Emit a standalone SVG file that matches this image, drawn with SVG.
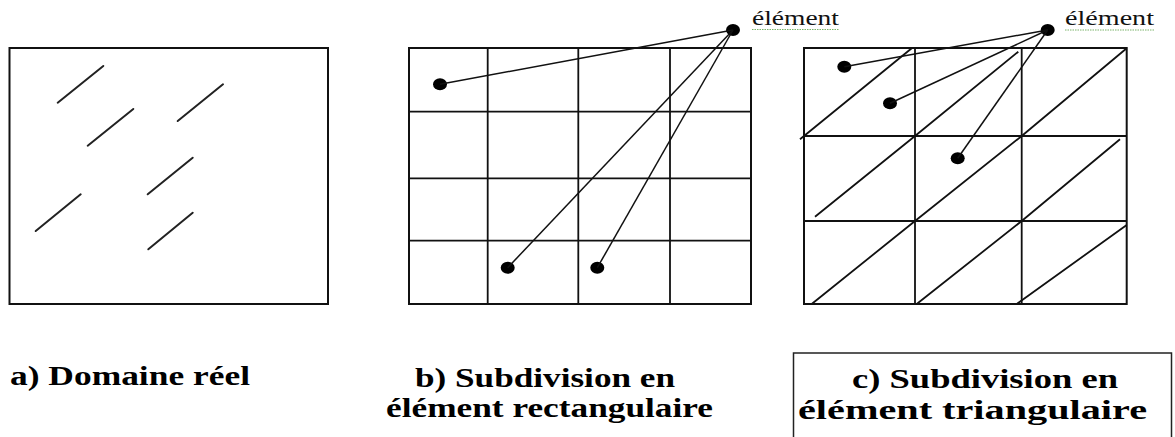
<svg xmlns="http://www.w3.org/2000/svg" width="1175" height="437" viewBox="0 0 1175 437">
<style>
.frame{fill:none;stroke:#111;stroke-width:2}
.grid{stroke:#111;stroke-width:1.8;fill:none}
.crack{stroke:#222;stroke-width:2;stroke-linecap:round}
.conn{stroke:#111;stroke-width:1.5;fill:none}
.dot{fill:#000}
.lbl{font-family:"Times New Roman","Liberation Serif",Times,serif;font-size:20px;fill:#111}
.cap{font-family:"Times New Roman","Liberation Serif",Times,serif;font-size:27px;font-weight:bold;fill:#000}
.spell{stroke:#7bb36b;stroke-width:1;stroke-dasharray:1.5 1;fill:none}
</style>
<rect width="1175" height="437" fill="#fff"/>

<g id="panel-a">
<rect class="frame" x="9.5" y="48" width="318.5" height="256"/>
<line class="crack" x1="57.7" y1="102.7" x2="103.3" y2="66"/>
<line class="crack" x1="87.7" y1="145.7" x2="133.3" y2="109"/>
<line class="crack" x1="177.7" y1="121" x2="223" y2="84.3"/>
<line class="crack" x1="147.7" y1="194.3" x2="192.7" y2="157.7"/>
<line class="crack" x1="35.7" y1="231" x2="80.7" y2="194.3"/>
<line class="crack" x1="148.3" y1="249.3" x2="192.7" y2="212.7"/>
</g>

<g id="panel-b">
<rect class="frame" x="409" y="48" width="342" height="256"/>
<path class="grid" d="M487.7 48V304M578.3 48V304M670 48V304M409 111.7H751M409 178.3H751M409 240.7H751"/>
<ellipse class="dot" cx="440" cy="84.3" rx="7" ry="6"/>
<ellipse class="dot" cx="507.7" cy="267.7" rx="7" ry="6"/>
<ellipse class="dot" cx="597.3" cy="267.7" rx="7" ry="6"/>
</g>

<g id="panel-c">
<rect class="frame" x="804" y="48" width="322.7" height="256"/>
<path class="grid" d="M915 48V304M1021.7 48V304M804 136H1126.7M804 221H1126.7"/>
<path class="grid" d="M800 139.3L911.7 48.3M915 136L1018.3 51.7M1021.7 136L1126.7 48.3M815 216.7L915 136M915 221L1021.7 136M1021.7 221L1120 139.3M811.7 304L915 221M916.7 304L1021.7 221M1016.7 304L1126.7 225"/>
<ellipse class="dot" cx="844.3" cy="66.7" rx="7" ry="6"/>
<ellipse class="dot" cx="890" cy="103.3" rx="7" ry="6"/>
<ellipse class="dot" cx="957.7" cy="158.3" rx="7" ry="6"/>
</g>

<g id="label-element-b">
<ellipse class="dot" cx="733" cy="30" rx="7" ry="6"/>
<text class="lbl" x="752" y="25" textLength="87" lengthAdjust="spacingAndGlyphs">élément</text>
<path class="spell" d="M752 29.5H839"/>
</g>

<g id="label-element-c">
<ellipse class="dot" cx="1047.7" cy="30" rx="7" ry="6"/>
<text class="lbl" x="1065" y="25.3" textLength="89" lengthAdjust="spacingAndGlyphs">élément</text>
<path class="spell" d="M1065 30H1154"/>
</g>

<g id="connectors">
<line class="conn" x1="733" y1="30" x2="440" y2="84.3"/>
<line class="conn" x1="733" y1="30" x2="507.7" y2="267.7"/>
<line class="conn" x1="733" y1="30" x2="597.3" y2="267.7"/>
<line class="conn" x1="1047.7" y1="30" x2="844.3" y2="66.7"/>
<line class="conn" x1="1047.7" y1="30" x2="890" y2="103.3"/>
<line class="conn" x1="1047.7" y1="30" x2="957.7" y2="158.3"/>
</g>

<g id="caption-a">
<text class="cap" x="10" y="385" textLength="240" lengthAdjust="spacingAndGlyphs">a)  Domaine réel</text>
</g>

<g id="caption-b">
<text class="cap" x="415" y="387" textLength="260" lengthAdjust="spacingAndGlyphs">b)  Subdivision en</text>
<text class="cap" x="386" y="417" textLength="327" lengthAdjust="spacingAndGlyphs">élément rectangulaire</text>
</g>

<g id="caption-c">
<rect x="793.5" y="353" width="378" height="90" fill="none" stroke="#222" stroke-width="1.5"/>
<text class="cap" x="852" y="387.5" textLength="266" lengthAdjust="spacingAndGlyphs">c)  Subdivision en</text>
<text class="cap" x="798" y="418.5" textLength="349" lengthAdjust="spacingAndGlyphs">élément triangulaire</text>
</g>
</svg>
